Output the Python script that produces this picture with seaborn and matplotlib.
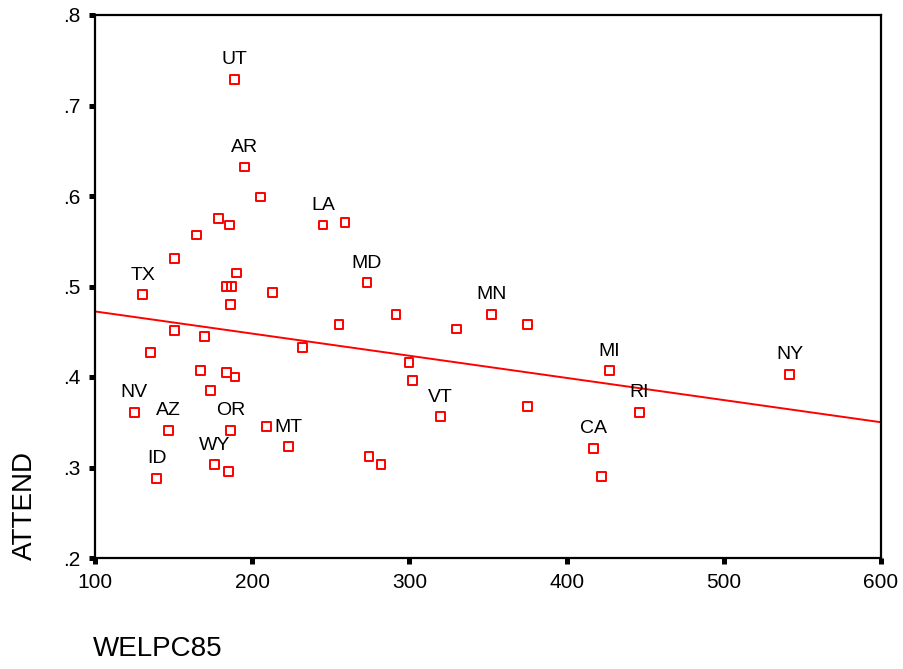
import matplotlib
matplotlib.use("Agg")
import matplotlib.pyplot as plt
import seaborn as sns
import pandas as pd
import numpy as np

# data
welpc85 = [188.7, 195.3, 205.3, 245.0, 259.0, 178.8, 185.4, 164.5, 150.7, 130.4,
           190.2, 183.8, 187.0, 212.9, 273.0, 186.4, 150.7, 169.6, 135.2, 232.1,
           255.2, 291.5, 330.1, 299.8, 302.1, 320.0, 167.1, 183.6, 189.0, 173.7,
           125.0, 146.9, 186.4, 209.3, 223.3, 176.0, 185.1, 139.3, 274.3, 282.0,
           352.0, 375.0, 375.0, 427.2, 446.3, 417.0, 422.1, 541.8]
attend = [0.729, 0.632, 0.599, 0.568, 0.5705, 0.575, 0.568, 0.557, 0.531, 0.491,
          0.515, 0.500, 0.500, 0.493, 0.504, 0.480, 0.451, 0.445, 0.427, 0.433,
          0.458, 0.469, 0.453, 0.416, 0.396, 0.356, 0.407, 0.405, 0.400, 0.385,
          0.361, 0.341, 0.341, 0.345, 0.323, 0.303, 0.296, 0.288, 0.312, 0.303,
          0.469, 0.458, 0.367, 0.407, 0.361, 0.321, 0.290, 0.403]
labels = ["UT", "AR", "", "LA", "", "", "", "", "", "TX",
          "", "", "", "", "MD", "", "", "", "", "",
          "", "", "", "", "", "VT", "", "", "", "",
          "NV", "AZ", "OR", "", "MT", "WY", "", "ID", "", "",
          "MN", "", "", "MI", "RI", "CA", "", "NY"]

x_ticks = [100, 200, 300, 400, 500, 600]
x_ticklabels = ["100", "200", "300", "400", "500", "600"]
y_ticks = [0.2, 0.3, 0.4, 0.5, 0.6, 0.7, 0.8]
y_ticklabels = [".2", ".3", ".4", ".5", ".6", ".7", ".8"]

df = pd.DataFrame({"WELPC85": welpc85, "ATTEND": attend, "state": labels})

sns.set_style("white")
plt.rcParams["font.family"] = ["Liberation Sans", "DejaVu Sans"]
plt.rcParams["text.color"] = "black"

fig = plt.figure(figsize=(9.04, 6.69), dpi=100)
ax = fig.add_axes([95 / 904, 1 - 558 / 669, (881 - 95) / 904, (558 - 15) / 669])
ax.set_xlim(100, 600)
ax.set_ylim(0.2, 0.8)

sns.regplot(data=df, x="WELPC85", y="ATTEND", scatter=False, ci=None,
            truncate=False, ax=ax, line_kws=dict(color="#ff0000", lw=1.4))
sns.scatterplot(data=df, x="WELPC85", y="ATTEND", ax=ax, marker="s", s=40,
                facecolor="none", edgecolor="#ff0000", linewidth=1.4, zorder=3)

for xv, yv, lab in zip(df["WELPC85"], df["ATTEND"], df["state"]):
    if lab:
        ax.annotate(lab, (xv, yv), xytext=(0, 8), textcoords="offset points",
                    ha="center", va="bottom", fontsize=14, color="black")

ax.set_xlim(100, 600)
ax.set_ylim(0.2, 0.8)
ax.set_xticks(x_ticks)
ax.set_xticklabels(x_ticklabels)
ax.set_yticks(y_ticks)
ax.set_yticklabels(y_ticklabels)
ax.tick_params(axis="both", which="major", bottom=True, left=True,
               top=False, right=False, direction="out", length=4.5, width=3.6,
               color="black", labelsize=15, pad=6, labelcolor="black")
for sp in ax.spines.values():
    sp.set_visible(True)
    sp.set_color("black")
    sp.set_linewidth(1.6)
ax.set_xlabel("")
ax.set_ylabel("")

fig.text(93 / 904, 1 - 649 / 669, "WELPC85", fontsize=20, ha="left",
         va="center", color="black")
fig.text(25 / 904, 1 - 560 / 669, "ATTEND", fontsize=20, rotation=90,
         ha="center", va="bottom", color="black")

fig.savefig("out.png", dpi=100, facecolor="white")
